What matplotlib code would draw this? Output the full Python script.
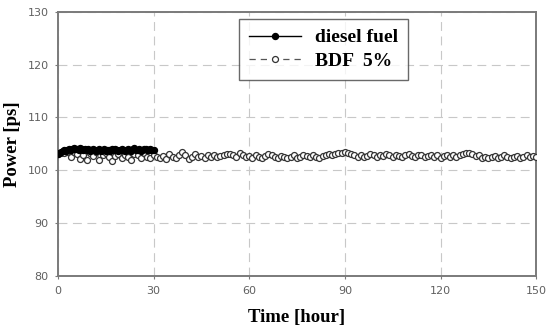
import numpy as np
import matplotlib
matplotlib.use("Agg")
import matplotlib.pyplot as plt

# power readings, diesel every 0.5 h for 30 h
diesel_power = [103.0, 103.2, 103.5, 103.6, 103.8, 103.7, 103.9, 104.0, 103.8, 104.1,
                104.2, 104.0, 104.1, 103.9, 104.2, 104.0, 103.8, 104.1, 103.9, 104.0,
                103.7, 103.9, 104.1, 103.8, 103.6, 103.9, 104.0, 103.7, 103.8, 104.0,
                103.6, 103.8, 103.9, 103.7, 104.0, 103.8, 104.1, 103.9, 103.7, 103.8,
                104.0, 103.9, 103.6, 103.8, 104.1, 103.9, 103.7, 104.0, 104.2, 103.9,
                103.8, 104.0, 103.7, 103.9, 104.1, 104.0, 103.8, 103.9, 104.1, 103.8,
                103.9]
diesel_time = np.arange(0, 30.5, 0.5)

# BDF 5% every hour for 150 h
bdf_power = [103.0, 103.2, 103.3, 103.4, 102.6, 103.5, 103.1, 102.2, 102.8, 101.9,
             103.2, 102.7, 103.4, 102.0, 102.9, 103.3, 102.5, 101.8, 102.7, 103.1,
             102.3, 102.9, 102.6, 101.9, 103.0, 102.8, 102.4, 103.2, 102.6, 102.3,
             102.9,
             102.5, 102.3, 102.7, 102.2, 103.1, 102.6, 102.4, 102.9, 103.4, 102.8,
             102.2, 102.6, 103.0, 102.5, 102.7, 102.4, 102.8, 102.6, 102.9, 102.5,
             102.7, 102.8, 103.0, 103.1, 102.9, 102.6, 103.2, 102.8, 102.5, 102.7,
             102.4, 102.8, 102.6, 102.3, 102.7, 103.0, 102.9, 102.5, 102.4, 102.7,
             102.6, 102.3, 102.5, 102.8, 102.4, 102.6, 102.9, 102.7, 102.5, 102.8,
             102.6, 102.4, 102.7, 102.9, 103.0, 102.8, 103.1, 103.3, 103.2, 103.4,
             103.2, 103.0, 102.8, 102.6, 102.9, 102.5, 102.7, 103.0, 102.8, 102.6,
             102.9, 102.7, 103.1, 102.8, 102.6, 102.9, 102.7, 102.5, 102.8, 103.0,
             102.7, 102.6, 102.9, 102.8, 102.5, 102.7, 102.9, 102.6, 102.8, 102.4,
             102.7, 102.9, 102.6, 102.8, 102.5, 102.9, 103.1, 103.3, 103.2, 103.0,
             102.7, 102.8, 102.4, 102.6, 102.3, 102.5, 102.7, 102.4, 102.6, 102.8,
             102.5, 102.3, 102.6, 102.7, 102.4, 102.6, 102.8, 102.5, 102.7, 102.6]
bdf_time = np.arange(0, 151, 1)

x_ticks = [0, 30, 60, 90, 120, 150]
y_ticks = [80, 90, 100, 110, 120, 130]

fig = plt.figure(figsize=(5.46, 3.30), dpi=100)
ax = fig.add_axes([0.106, 0.164, 0.876, 0.8])

ax.plot(bdf_time, bdf_power, linestyle=(0, (5, 4)), color='#555555', lw=0.9,
        marker='o', markersize=4.3, markerfacecolor='white', markeredgecolor='#333333',
        markeredgewidth=0.9, label='BDF  5%', zorder=3)
ax.plot(diesel_time, diesel_power, '-', color='black', lw=1.0, marker='o',
        markersize=4.3, markerfacecolor='black', markeredgecolor='black',
        label='diesel fuel', zorder=4)

ax.set_xlim(0, 150)
ax.set_ylim(80, 130)
ax.set_xticks(x_ticks)
ax.set_yticks(y_ticks)
ax.grid(True, linestyle=(0, (8, 5)), color='#c8c8c8', lw=0.8)
ax.set_axisbelow(True)

for s in ax.spines.values():
    s.set_color('#7a7a7a')
    s.set_linewidth(1.4)
ax.tick_params(axis='both', colors='#7a7a7a', labelcolor='#606060', labelsize=8,
               direction='out', length=2.5)
ax.tick_params(axis='x', pad=5)
ax.tick_params(axis='y', pad=4)

ax.set_xlabel('Time [hour]', fontfamily='Liberation Serif', fontweight='bold',
              fontsize=13.5, labelpad=9)
ax.set_ylabel('Power [ps]', fontfamily='Liberation Serif', fontweight='bold',
              fontsize=13.5)
ax.yaxis.set_label_coords(-0.077, 0.5)

handles, labels = ax.get_legend_handles_labels()
leg = ax.legend(handles[::-1], labels[::-1], loc='upper left',
                bbox_to_anchor=(0.379, 0.973), borderaxespad=0, frameon=True,
                fancybox=False,
                prop={'family': 'Liberation Serif', 'weight': 'bold', 'size': 14},
                handlelength=2.7, handletextpad=0.7, borderpad=0.5, labelspacing=0.3)
leg.get_frame().set_edgecolor('#444444')
leg.get_frame().set_linewidth(1.0)

fig.savefig('out.png', dpi=100)
